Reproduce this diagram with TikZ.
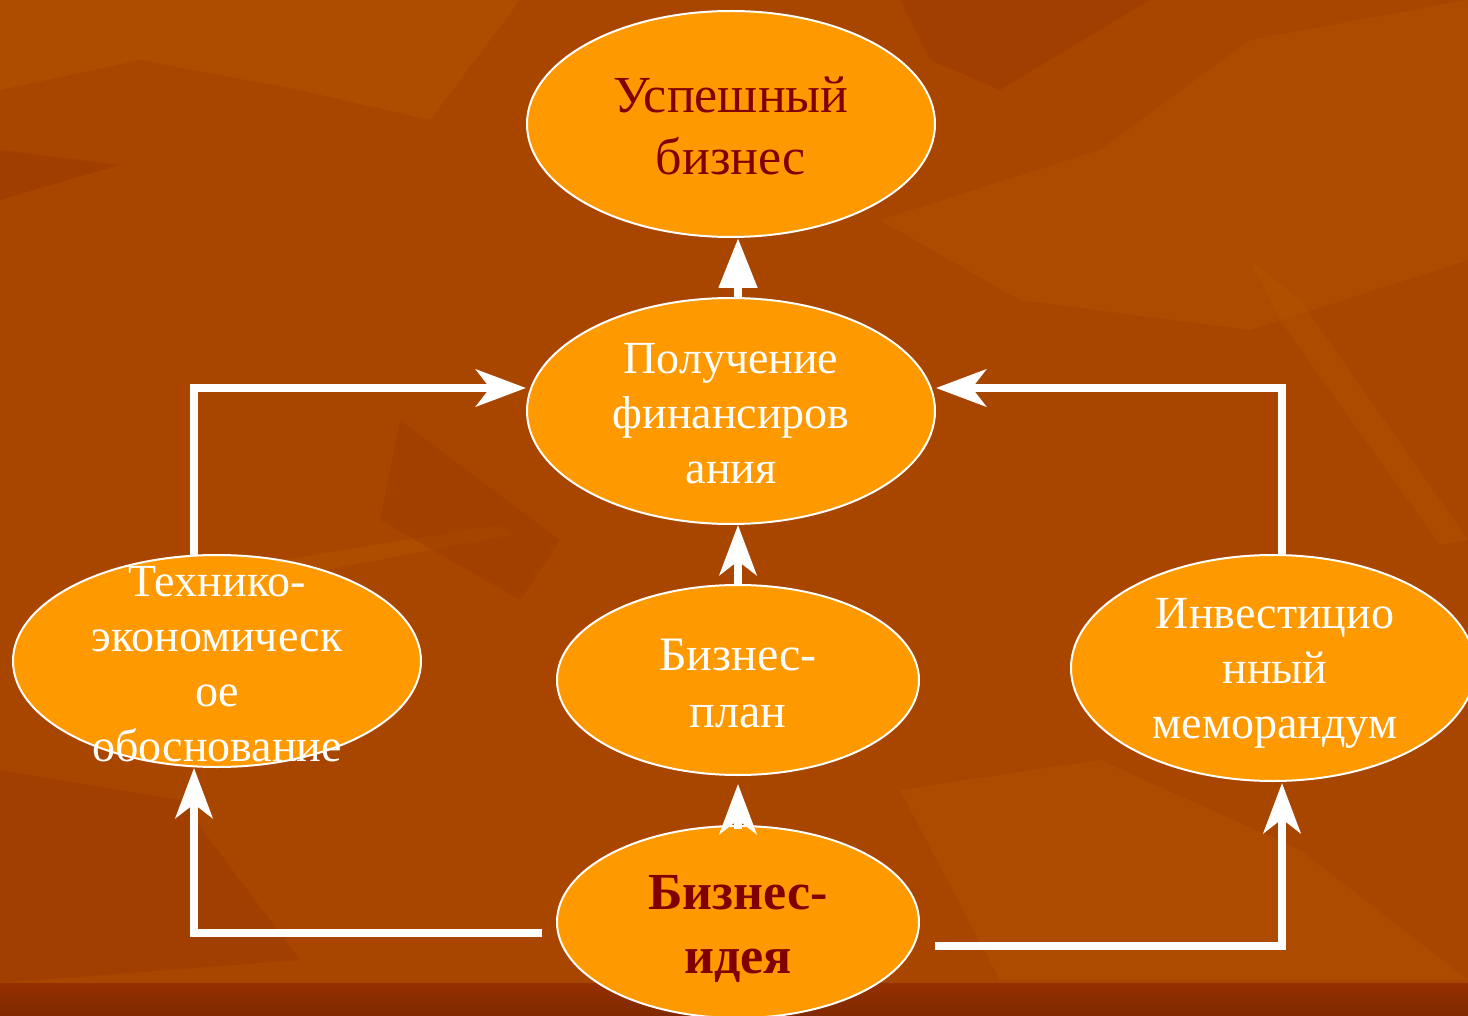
\documentclass[tikz,border=0pt]{standalone}
\usepackage{fontspec}
\setmainfont{Liberation Serif}
\usetikzlibrary{shapes.geometric,arrows.meta,calc}
\definecolor{bgmain}{HTML}{A84600}
\definecolor{bglight}{HTML}{B35300}
\definecolor{bgdark}{HTML}{9C3A00}
\definecolor{bgband}{HTML}{953000}
\definecolor{ovfill}{HTML}{FF9900}
\definecolor{darkred}{HTML}{800000}
\tikzset{
  oval/.style={ellipse, draw=white, line width=2pt, fill=ovfill, inner sep=0pt},
  wtxt/.style={text=white, align=center, inner sep=0pt, font=\fontsize{46}{55}\selectfont},
  rtxt/.style={text=darkred, align=center, inner sep=0pt, font=\fontsize{52}{62}\selectfont},
  btxt/.style={text=darkred, align=center, inner sep=0pt, font=\fontsize{52}{64}\selectfont\bfseries},
  arr/.style={draw=white, line width=8pt, line join=miter, -{Stealth[length=50pt, width=37pt, inset=14pt]}},
  arrtri/.style={draw=white, line width=8pt, -{Triangle[length=50pt, width=37pt]}},
}
\begin{document}
\begin{tikzpicture}[x=1pt,y=-1pt]
\useasboundingbox (0,0) rectangle (1468,1016);
% background
\fill[bgmain] (0,0) rectangle (1468,1016);
\fill[bglight, opacity=0.6] (0,0) -- (520,0) -- (430,120) -- (300,90) -- (140,60) -- (0,90) -- cycle;
\fill[bgdark, opacity=0.6] (0,150) -- (120,165) -- (0,200) -- cycle;
\fill[bglight, opacity=0.5] (880,220) -- (1100,150) -- (1250,40) -- (1468,0) -- (1468,260) -- (1250,330) -- (1020,300) -- cycle;
\fill[bgdark, opacity=0.5] (900,0) -- (1150,0) -- (1000,90) -- (930,60) -- cycle;
\fill[bglight, opacity=0.5] (900,790) -- (1100,760) -- (1300,850) -- (1468,980) -- (1000,980) -- cycle;
\fill[bgdark, opacity=0.5] (0,770) -- (180,800) -- (300,960) -- (0,983) -- cycle;
\fill[bglight, opacity=0.55] (280,560) -- (500,525) -- (510,535) -- (300,575) -- cycle;
\fill[bglight, opacity=0.5] (1250,260) -- (1300,300) -- (1468,540) -- (1440,545) -- (1280,320) -- cycle;
\fill[bgdark, opacity=0.45] (400,420) -- (560,540) -- (520,600) -- (380,520) -- cycle;
\shade[top color=bgband, bottom color=bgband!85!black] (0,983) rectangle (1468,1016);
% ovals
\node[oval, minimum width=408pt, minimum height=226pt] (usp) at (731,124) {};
\node[oval, minimum width=408pt, minimum height=226pt] (fin) at (731,411) {};
\node[oval, minimum width=362pt, minimum height=190pt] (plan) at (738,680) {};
\node[oval, minimum width=362pt, minimum height=192pt] (idea) at (738,922) {};
\node[oval, minimum width=408pt, minimum height=212pt] (teh) at (217,661) {};
\node[oval, minimum width=404pt, minimum height=226pt] (inv) at (1273,668) {};
% texts
\node[rtxt] (uspt) at (731,126) {Успешный\\бизнес};
\node[wtxt] (fint) at (731,414) {Получение\\финансиров\\ания};
\node[wtxt, font=\fontsize{48}{57}\selectfont] (plant) at (738,684) {Бизнес-\\план};
\node[btxt] (ideat) at (738,929) {Бизнес-\\идея};
\node[wtxt] (teht) at (217,664) {Технико-\\экономическ\\ое\\обоснование};
\node[wtxt] (invt) at (1275,673) {Инвестицио\\нный\\меморандум};
% connectors
\draw[arrtri] (fin.north -| plan.north) -- (usp.south -| plan.north);
\draw[arr] (plan.north) -- (fin.south -| plan.north);
\draw[arr] ([yshift=-4pt]idea.north) -- ([yshift=-8pt]plan.south);
\coordinate (lstart) at (542,933);
\coordinate (lup) at (194,768);
\draw[arr] (lstart) -| (lup);
\coordinate (ltop) at (194,556);
\draw[arr] (ltop) |- ($(fin.west)+(0,-23)$);
\coordinate (rstart) at (935,946);
\coordinate (rup) at (1282,783);
\draw[arr] (rstart) -| (rup);
\coordinate (rtop) at (1282,556);
\draw[arr] (rtop) |- ($(fin.east)+(0,-23)$);
\end{tikzpicture}
\end{document}
